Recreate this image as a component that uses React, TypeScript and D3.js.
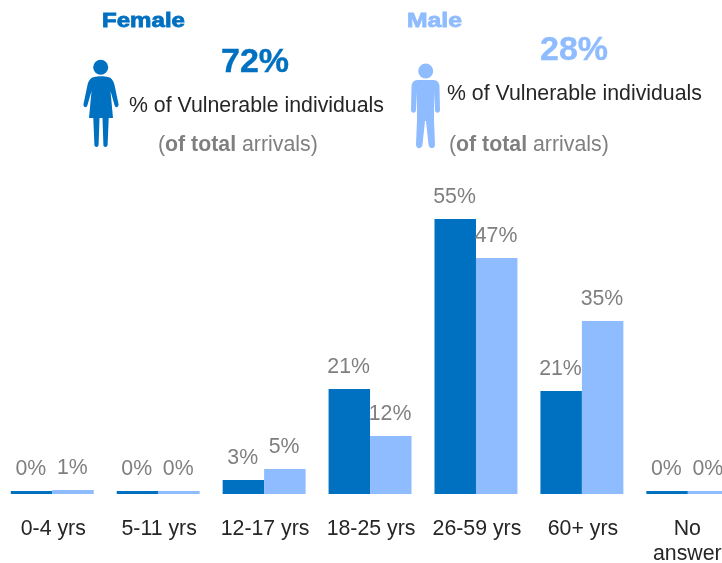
import React, { useEffect, useRef } from 'react';
import * as d3 from 'd3';

const ageGroups = ['0-4 yrs', '5-11 yrs', '12-17 yrs', '18-25 yrs', '26-59 yrs', '60+ yrs', 'No answer'];
const femaleValues = [0.6, 0.6, 2.8, 21, 55, 20.6, 0.6];
const maleValues = [0.8, 0.6, 5, 11.6, 47.2, 34.6, 0.6];
const femaleLabels = ['0%', '0%', '3%', '21%', '55%', '21%', '0%'];
const maleLabels = ['1%', '0%', '5%', '12%', '47%', '35%', '0%'];

const BLUE = '#0070c0';
const LIGHT = '#8fbcff';
const GREY = '#7f7f7f';
const DARK = '#262626';
const FONT = '"Liberation Sans", Arial, sans-serif';
const TEXT_SIZE = 21.3;

const womanPath = 'M-7 -36 C-3 -37 3 -37 7 -36 C11 -35 12.5 -32 13.5 -28 L17.5 -9 C18 -5.5 14.5 -4.5 13.5 -8 L9.5 -22 L12 5 L7.7 5 L6.6 32 C6.4 34.5 2.6 34.5 2.4 32 L1.5 5 L-1.5 5 L-2.4 32 C-2.6 34.5 -6.4 34.5 -6.6 32 L-7.7 5 L-12 5 L-9.5 -22 L-13.5 -8 C-14.5 -4.5 -18 -5.5 -17.5 -9 L-13.5 -28 C-12.5 -32 -11 -35 -7 -36 Z';
const manPath = 'M-8 -30 L8 -30 C12 -30 14 -27 14 -23 L14.5 0 C14.5 3.5 9.5 3.5 9.5 0 L8.5 -18 L8.5 10 L9.5 34.5 C9.5 39.5 3.5 39.5 3 34.5 L0.5 11 L-0.5 11 L-3 34.5 C-3.5 39.5 -9.5 39.5 -9.5 34.5 L-8.5 10 L-8.5 -18 L-9.5 0 C-9.5 3.5 -14.5 3.5 -14.5 0 L-14 -23 C-14 -27 -12 -30 -8 -30 Z';

export default function App() {
  const ref = useRef<SVGSVGElement>(null);

  useEffect(() => {
    const w = 722, h = 563, baseline = 494;
    const svg = d3.select(ref.current).attr('width', w).attr('height', h);
    svg.selectAll('*').remove();

    const x = d3.scaleBand<string>().domain(ageGroups).range([-0.7, 740.8]).paddingInner(0.217).paddingOuter(0.1085);
    const y = d3.scaleLinear().domain([0, 55]).range([baseline, 219]);
    const bw = x.bandwidth() / 2;

    const series = [
      { values: femaleValues, labels: femaleLabels, color: BLUE, off: 0 },
      { values: maleValues, labels: maleLabels, color: LIGHT, off: bw },
    ];

    series.forEach(s => {
      const g = svg.append('g');
      g.selectAll('rect')
        .data(s.values)
        .join('rect')
        .attr('x', (_, i) => x(ageGroups[i])! + s.off)
        .attr('y', d => y(d))
        .attr('width', bw)
        .attr('height', d => baseline - y(d))
        .attr('fill', s.color);
      g.selectAll('text')
        .data(s.values)
        .join('text')
        .attr('x', (_, i) => x(ageGroups[i])! + s.off + bw / 2 - 0.7)
        .attr('y', d => y(d) - 16)
        .attr('text-anchor', 'middle')
        .attr('font-family', FONT)
        .attr('font-size', TEXT_SIZE)
        .attr('fill', GREY)
        .text((_, i) => s.labels[i]);
    });

    // category labels, "No answer" wraps on two lines
    svg.append('g')
      .selectAll('text')
      .data(ageGroups)
      .join('text')
      .attr('x', d => x(d)! + bw + 1)
      .attr('y', 535)
      .attr('text-anchor', 'middle')
      .attr('font-family', FONT)
      .attr('font-size', TEXT_SIZE)
      .attr('fill', DARK)
      .each(function (d) {
        const t = d3.select(this);
        if (d === 'No answer') {
          t.append('tspan').attr('x', x(d)! + bw - 0.5).text('No');
          t.append('tspan').attr('x', x(d)! + bw - 0.5).attr('dy', 25).text('answer');
        } else t.text(d);
      });

    const text = (tx: number, ty: number, str: string, size: number, color: string, weight = 'normal') =>
      svg.append('text').attr('x', tx).attr('y', ty).attr('font-family', FONT)
        .attr('font-size', size).attr('font-weight', weight).attr('fill', color).text(str);

    const title = (tx: number, str: string, color: string, len: number) =>
      text(tx, 27, str, 20, color, 'bold').attr('stroke', color).attr('stroke-width', 0.8)
        .attr('textLength', len).attr('lengthAdjust', 'spacingAndGlyphs');

    // header, female
    title(102, 'Female', BLUE, 83);
    text(221, 72, '72%', 34, BLUE, 'bold').attr('stroke', BLUE).attr('stroke-width', 0.4);
    svg.append('circle').attr('cx', 100.7).attr('cy', 67.3).attr('r', 7.5).attr('fill', BLUE);
    svg.append('path').attr('d', womanPath).attr('transform', 'translate(101,113)').attr('fill', BLUE);
    text(129, 112, '% of Vulnerable individuals', TEXT_SIZE, DARK);
    const n1 = text(158, 151, '(', TEXT_SIZE, GREY);
    n1.append('tspan').attr('font-weight', 'bold').text('of total');
    n1.append('tspan').text(' arrivals)');

    // header, male
    title(407, 'Male', LIGHT, 55);
    text(540, 60, '28%', 34, LIGHT, 'bold').attr('stroke', LIGHT).attr('stroke-width', 0.4);
    svg.append('circle').attr('cx', 425.7).attr('cy', 71).attr('r', 7.5).attr('fill', LIGHT);
    svg.append('path').attr('d', manPath).attr('transform', 'translate(425.5,110)').attr('fill', LIGHT);
    text(447, 100, '% of Vulnerable individuals', TEXT_SIZE, DARK);
    const n2 = text(449, 151, '(', TEXT_SIZE, GREY);
    n2.append('tspan').attr('font-weight', 'bold').text('of total');
    n2.append('tspan').text(' arrivals)');
  }, []);

  return <svg ref={ref} style={{ position: 'fixed', left: 0, top: 0, display: 'block' }} />;
}
